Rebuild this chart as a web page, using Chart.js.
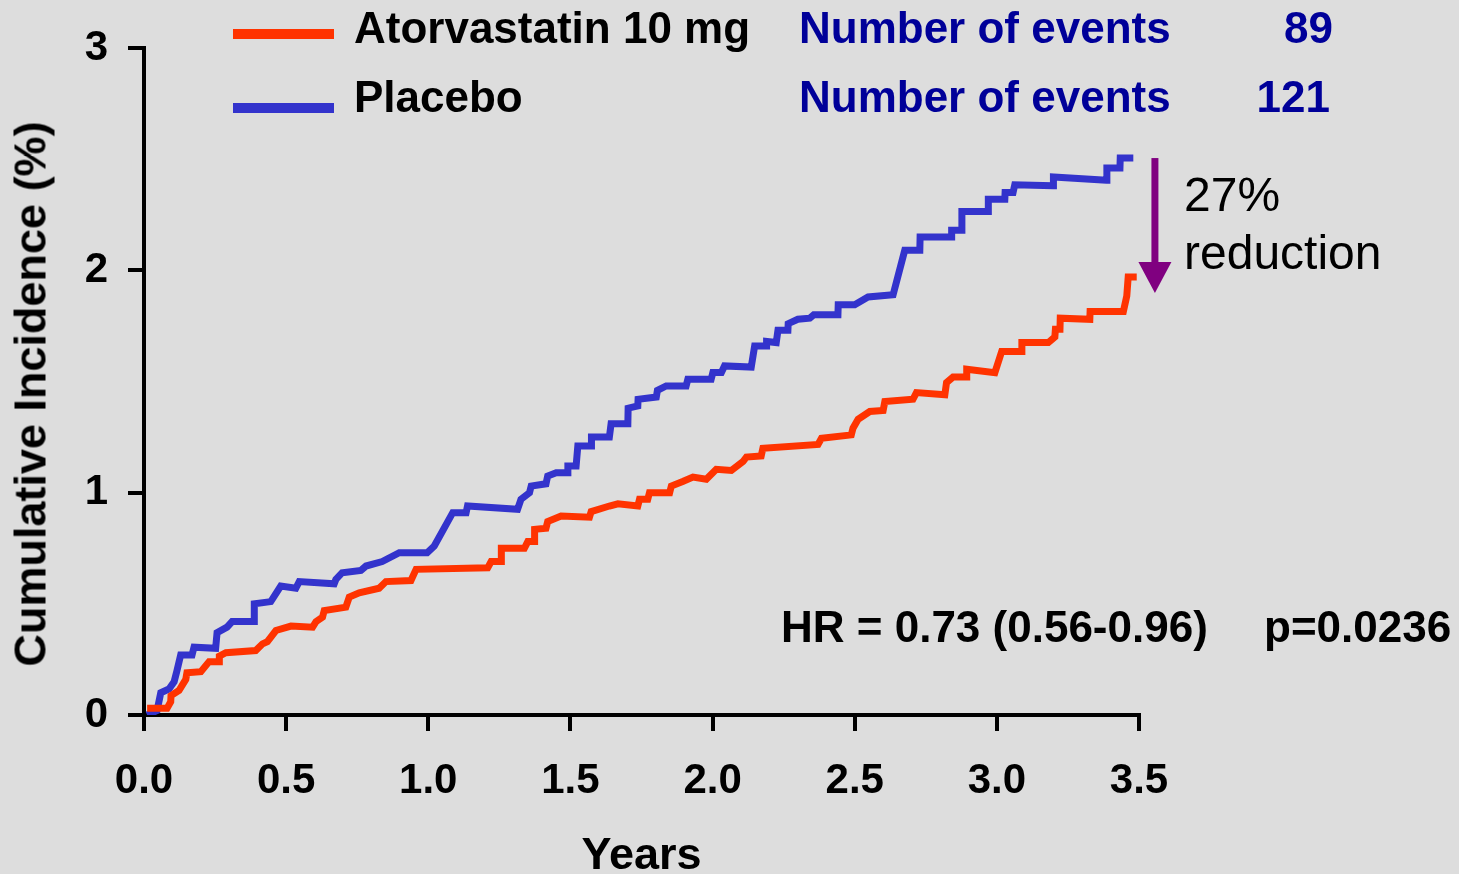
<!DOCTYPE html>
<html>
<head>
<meta charset="utf-8">
<script src="https://cdn.jsdelivr.net/npm/chart.js@4.4.1/dist/chart.umd.min.js"></script>
<style>
html,body{margin:0;padding:0;background:#DDDDDD;}
#wrap{position:relative;width:1459px;height:874px;overflow:hidden;background:#DDDDDD;font-family:"Liberation Sans",Arial,sans-serif;}
#c{position:absolute;left:0;top:0;}
.t{position:absolute;white-space:nowrap;line-height:1;}
.sw{position:absolute;}
</style>
</head>
<body>
<div id="wrap"><canvas id="c" width="1459" height="874"></canvas></div>
<script>
// ---- data ----
const seriesNames = ["Atorvastatin 10 mg", "Placebo"];
const seriesColors = ["#FF3300", "#3333CC"];
const eventLabel = "Number of events";
const eventCounts = ["89", "121"];

const atorYears = [0.011,0.081,0.094,0.095,0.123,0.147,0.151,0.200,0.229,0.264,0.265,0.288,0.393,0.417,0.434,0.464,0.517,0.593,0.605,0.628,0.634,0.710,0.722,0.757,0.827,0.851,0.939,0.957,1.209,1.221,1.256,1.257,1.338,1.350,1.373,1.374,1.414,1.420,1.467,1.567,1.573,1.637,1.667,1.737,1.743,1.772,1.778,1.849,1.855,1.895,1.931,1.978,2.013,2.066,2.107,2.119,2.171,2.177,2.371,2.383,2.488,2.494,2.512,2.553,2.600,2.606,2.705,2.717,2.817,2.823,2.846,2.893,2.894,2.993,3.017,3.087,3.088,3.181,3.204,3.206,3.222,3.223,3.327,3.328,3.445,3.457,3.462,3.492];
const atorValues = [0.03,0.03,0.06,0.087,0.11,0.16,0.19,0.195,0.24,0.24,0.265,0.28,0.29,0.32,0.33,0.38,0.40,0.395,0.42,0.44,0.47,0.485,0.53,0.55,0.57,0.60,0.605,0.655,0.662,0.69,0.69,0.75,0.75,0.78,0.78,0.835,0.84,0.87,0.895,0.89,0.915,0.94,0.95,0.94,0.97,0.97,1.0,1.0,1.03,1.05,1.07,1.06,1.105,1.10,1.14,1.16,1.165,1.20,1.217,1.245,1.26,1.29,1.33,1.365,1.37,1.41,1.42,1.45,1.44,1.495,1.52,1.52,1.555,1.54,1.635,1.635,1.675,1.675,1.70,1.735,1.735,1.785,1.78,1.815,1.815,1.885,1.97,1.97];

const placeboYears = [0.011,0.046,0.059,0.088,0.106,0.116,0.129,0.169,0.176,0.252,0.257,0.292,0.310,0.387,0.388,0.446,0.481,0.534,0.546,0.669,0.675,0.697,0.763,0.781,0.838,0.898,0.996,1.021,1.086,1.133,1.138,1.314,1.326,1.356,1.362,1.414,1.420,1.450,1.490,1.491,1.520,1.526,1.573,1.574,1.637,1.643,1.702,1.703,1.737,1.738,1.802,1.806,1.837,1.907,1.913,1.995,2.001,2.031,2.042,2.136,2.148,2.189,2.190,2.224,2.230,2.265,2.266,2.300,2.342,2.356,2.441,2.442,2.500,2.547,2.635,2.676,2.729,2.730,2.840,2.841,2.876,2.877,2.969,2.970,3.028,3.029,3.057,3.063,3.198,3.199,3.386,3.387,3.433,3.434,3.480];
const placeboValues = [0,0.02,0.10,0.117,0.15,0.2,0.27,0.27,0.305,0.30,0.37,0.395,0.42,0.42,0.5,0.51,0.58,0.57,0.60,0.59,0.61,0.64,0.65,0.67,0.69,0.73,0.73,0.76,0.91,0.91,0.94,0.925,0.97,1.0,1.03,1.04,1.075,1.09,1.09,1.12,1.12,1.21,1.21,1.25,1.25,1.31,1.31,1.38,1.39,1.42,1.43,1.46,1.48,1.48,1.51,1.51,1.54,1.54,1.57,1.565,1.66,1.66,1.68,1.675,1.73,1.73,1.76,1.78,1.785,1.80,1.80,1.845,1.845,1.88,1.89,2.09,2.09,2.15,2.15,2.18,2.18,2.265,2.265,2.32,2.32,2.35,2.35,2.385,2.38,2.42,2.405,2.46,2.46,2.505,2.505];

const xTickValues = [0, 0.5, 1, 1.5, 2, 2.5, 3, 3.5];
const xTickLabels = ["0.0", "0.5", "1.0", "1.5", "2.0", "2.5", "3.0", "3.5"];
const yTickValues = [0, 1, 2, 3];
const yTickLabels = ["0", "1", "2", "3"];
const xTitle = "Years";
const yTitle = "Cumulative Incidence (%)";

const hrText = "HR = 0.73 (0.56-0.96)";
const pText = "p=0.0236";
const reductionLines = ["27%", "reduction"];
const arrowX = 3.556, arrowFrom = 2.505, arrowTo = 1.898;
const arrowColor = "#800080";

// ---- helpers ----
const FAM = '"Liberation Sans", Arial, sans-serif';
const wrap = document.getElementById('wrap');
function addText(str, x, baseline, size, weight, color, align) {
  const d = document.createElement('div');
  d.className = 't';
  d.textContent = str;
  d.style.fontSize = size + 'px';
  d.style.fontWeight = weight;
  d.style.color = color;
  d.style.top = (baseline - 0.8465 * size) + 'px';
  if (align === 'right') d.style.right = (1459 - x) + 'px';
  else d.style.left = x + 'px';
  wrap.appendChild(d);
  return d;
}
function addSwatch(x, yc, w, h, color) {
  const d = document.createElement('div');
  d.className = 'sw';
  d.style.left = x + 'px';
  d.style.top = (yc - h / 2) + 'px';
  d.style.width = w + 'px';
  d.style.height = h + 'px';
  d.style.background = color;
  wrap.appendChild(d);
}

// legend + annotations
const rowBase = [43, 112];
const swatchY = [34, 108];
for (let i = 0; i < 2; i++) {
  addSwatch(233, swatchY[i], 101, 10, seriesColors[i]);
  addText(seriesNames[i], 354, rowBase[i], 44, 'bold', '#000', 'left');
  addText(eventLabel, 799, rowBase[i], 44, 'bold', '#000099', 'left');
}
addText(eventCounts[0], 1333, rowBase[0], 44, 'bold', '#000099', 'right');
addText(eventCounts[1], 1330, rowBase[1], 44, 'bold', '#000099', 'right');
addText(reductionLines[0], 1184, 212, 48, 'normal', '#000', 'left');
addText(reductionLines[1], 1184, 270, 48, 'normal', '#000', 'left');
addText(hrText, 781, 642, 44, 'bold', '#000', 'left');
addText(pText, 1264, 642, 44, 'bold', '#000', 'left');

// rotated y-axis title
(function () {
  const d = document.createElement('div');
  d.className = 't';
  d.textContent = yTitle;
  d.style.fontSize = '45px';
  d.style.fontWeight = 'bold';
  d.style.color = '#000';
  d.style.left = '30px';
  d.style.top = '394px';
  d.style.transform = 'translate(-50%,-50%) rotate(-90deg)';
  wrap.appendChild(d);
})();

const arrowPlugin = {
  id: 'arrow',
  afterDatasetsDraw(chart) {
    const {ctx, scales: {x, y}} = chart;
    const px = x.getPixelForValue(arrowX);
    const y0 = y.getPixelForValue(arrowFrom);
    const y1 = y.getPixelForValue(arrowTo);
    ctx.save();
    ctx.strokeStyle = arrowColor;
    ctx.lineWidth = 7;
    ctx.beginPath();
    ctx.moveTo(px, y0);
    ctx.lineTo(px, y1 - 28);
    ctx.stroke();
    ctx.fillStyle = arrowColor;
    ctx.beginPath();
    ctx.moveTo(px - 16.5, y1 - 31);
    ctx.lineTo(px + 16.5, y1 - 31);
    ctx.lineTo(px, y1);
    ctx.closePath();
    ctx.fill();
    ctx.restore();
  }
};

const toPts = (xs, ys) => xs.map((v, i) => ({x: v, y: ys[i]}));

new Chart(document.getElementById('c'), {
  type: 'line',
  data: {
    datasets: [
      {label: seriesNames[0], data: toPts(atorYears, atorValues), borderColor: seriesColors[0], borderWidth: 7, pointRadius: 0, tension: 0, fill: false},
      {label: seriesNames[1], data: toPts(placeboYears, placeboValues), borderColor: seriesColors[1], borderWidth: 7, pointRadius: 0, tension: 0, fill: false}
    ]
  },
  plugins: [arrowPlugin],
  options: {
    responsive: false,
    animation: false,
    devicePixelRatio: 1,
    layout: {padding: {top: 48, right: 320, left: 0, bottom: 0}},
    plugins: {legend: {display: false}, tooltip: {enabled: false}},
    scales: {
      x: {
        type: 'linear', min: 0, max: 3.5,
        afterBuildTicks: s => { s.ticks = xTickValues.map(v => ({value: v})); },
        afterFit: s => { s.height = 159; },
        ticks: {callback: (v, i) => xTickLabels[i], font: {family: FAM, size: 42, weight: 'bold'}, color: '#000', padding: 25, autoSkip: false, maxRotation: 0},
        grid: {drawOnChartArea: false, drawTicks: true, tickLength: 16, tickWidth: 4, tickColor: '#000', lineWidth: 4, color: '#000'},
        border: {display: true, width: 4, color: '#000'},
        title: {display: true, text: xTitle, color: '#000', font: {family: FAM, size: 45, weight: 'bold'}, padding: {top: 0, bottom: -10}}
      },
      y: {
        type: 'linear', min: 0, max: 3,
        afterBuildTicks: s => { s.ticks = yTickValues.map(v => ({value: v})); },
        afterFit: s => { s.width = 144; },
        ticks: {callback: (v, i) => yTickLabels[i], font: {family: FAM, size: 42, weight: 'bold'}, color: '#000', padding: 20, autoSkip: false},
        grid: {drawOnChartArea: false, drawTicks: true, tickLength: 16, tickWidth: 4, tickColor: '#000', lineWidth: 4, color: '#000'},
        border: {display: true, width: 4, color: '#000'},
        title: {display: false}
      }
    }
  }
});
</script>
</body>
</html>
